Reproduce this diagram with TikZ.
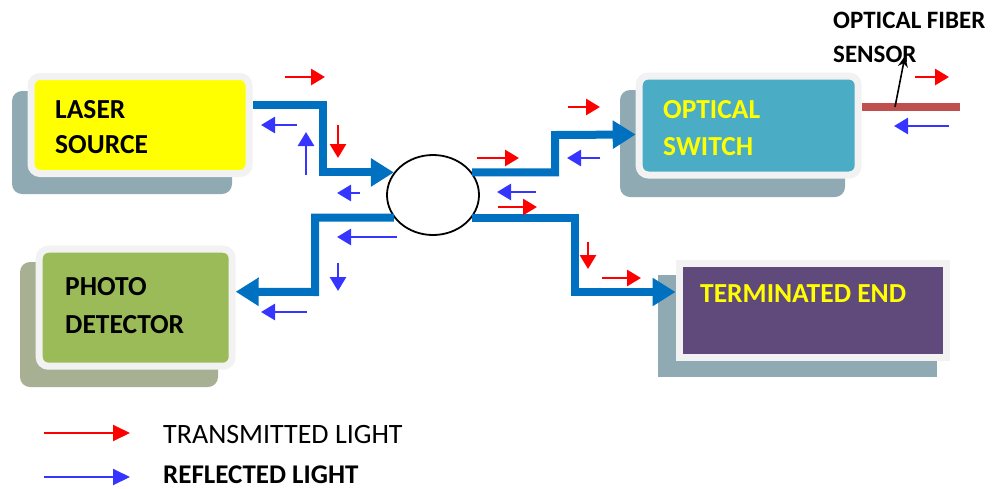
\documentclass[tikz,border=0pt]{standalone}
\usepackage{fontspec}
\setmainfont{Carlito}
\usetikzlibrary{arrows.meta,shapes.geometric}
\definecolor{fibc}{HTML}{0070C0}
\definecolor{txc}{HTML}{FF0000}
\definecolor{rxc}{HTML}{3535FF}
\definecolor{shadowc}{HTML}{8FAAB3}
\definecolor{shadowg}{HTML}{A7B092}
\definecolor{borderc}{HTML}{F2F2F2}
\definecolor{laserc}{HTML}{FFFF00}
\definecolor{switchc}{HTML}{4BACC6}
\definecolor{detc}{HTML}{9BBB59}
\definecolor{termc}{HTML}{604A7B}
\definecolor{sensc}{HTML}{C0504D}
\begin{document}
\begin{tikzpicture}[x=1pt,y=-1pt,
  box/.style={draw=borderc, line width=7pt, rounded corners=9pt, inner sep=0pt},
  sqbox/.style={draw=borderc, line width=7pt, inner sep=0pt},
  lbl/.style={anchor=base west, inner sep=0pt, font=\bfseries\fontsize{27.5}{27.5}\selectfont},
  fiber/.style={draw=fibc, line width=8pt, -{Triangle[length=23pt,width=27pt]}},
  tx/.style={draw=txc, line width=2.8pt, -{Triangle[length=14pt,width=16pt]}},
  rx/.style={draw=rxc, line width=2.8pt, -{Triangle[length=14pt,width=16pt]}},
  legtx/.style={draw=txc, line width=2pt, -{Triangle[length=17pt,width=16pt]}},
  legrx/.style={draw=rxc, line width=2pt, -{Triangle[length=17pt,width=16pt]}},
  leg/.style={anchor=base west, inner sep=0pt, font=\fontsize{28}{28}\selectfont}]
\useasboundingbox (0,0) rectangle (994,488);
% shadows
\fill[shadowc, rounded corners=10pt] (12,91) rectangle (232,194);
\fill[shadowc, rounded corners=10pt] (620,90) rectangle (845,197);
\fill[shadowg, rounded corners=10pt] (20,262) rectangle (218,387);
\fill[shadowc] (658,275) rectangle (937,377);
% boxes
\node[box, fill=laserc, minimum width=218pt, minimum height=97pt] (laser) at (140,125) {};
\node[box, fill=switchc, minimum width=219pt, minimum height=99pt] (switch) at (748.7,125.5) {};
\node[box, fill=detc, minimum width=193pt, minimum height=117pt] (det) at (135.7,307.7) {};
\node[sqbox, fill=termc, minimum width=267pt, minimum height=94pt] (term) at (812.5,310.5) {};
% labels
\node[lbl] (l1) at (55,118) {LASER};
\node[lbl] (l2) at (55,153) {SOURCE};
\node[lbl] (d1) at (65,295) {PHOTO};
\node[lbl] (d2) at (65,333) {DETECTOR};
\node[lbl, text=laserc] (s1) at (663,118) {OPTICAL};
\node[lbl, text=laserc] (s2) at (663,155) {SWITCH};
\node[lbl, text=laserc] (t1) at (700,302) {TERMINATED END};
\node[lbl, font=\bfseries\fontsize{25}{25}\selectfont] (f1) at (833,28) {OPTICAL FIBER};
\node[lbl, font=\bfseries\fontsize{25}{25}\selectfont] (f2) at (833,62) {SENSOR};
% coupler
\node[draw=black, line width=1.8pt, ellipse, minimum width=92pt, minimum height=80pt, inner sep=0pt] (coupler) at (433,195) {};
% fibers
\draw[fiber] ([yshift=20pt]laser.east) -- (323,105) |- (coupler.150);
\draw[fiber] (coupler.210) -| (315,292) -- ([yshift=16pt]det.east);
\draw[fiber] (coupler.30) -| (555,135) -- ([yshift=-9pt]switch.west);
\draw[fiber] (coupler.330) -| (575,292) -- ([yshift=18.5pt]term.west);
% sensor fiber
\coordinate (fiberend) at (960,107);
\coordinate (tap) at (895,107);
\coordinate (tagtip) at (905,56);
\draw[sensc, line width=8pt] ([yshift=18.5pt]switch.east) -- (fiberend);
\draw[black, line width=1.6pt, -{Stealth[length=11pt,width=10pt]}] (tap) -- (tagtip);
% small arrows
\draw[tx] (285,77) -- (325,77);
\draw[rx] (297,125) -- (261,125);
\draw[rx] (306,175) -- (306,132);
\draw[tx] (338,125) -- (338,158);
\draw[rx] (360,193) -- (337,193);
\draw[rx] (397,237) -- (337,237);
\draw[rx] (338,263) -- (338,291);
\draw[rx] (307,312) -- (261,312);
\draw[tx] (477,158) -- (519,158);
\draw[tx] (568,107) -- (600,107);
\draw[rx] (600,158) -- (567,158);
\draw[rx] (536,192) -- (497,192);
\draw[tx] (498,207) -- (537,207);
\draw[tx] (588,242) -- (588,269);
\draw[tx] (602,278) -- (641,278);
\draw[tx] (915,77) -- (949,77);
\draw[rx] (949,126) -- (894,126);
% legend
\coordinate (lt0) at (44,433);
\coordinate (lt1) at (130,433);
\coordinate (lr0) at (44,477);
\coordinate (lr1) at (130,477);
\draw[legtx] (lt0) -- (lt1);
\draw[legrx] (lr0) -- (lr1);
\node[leg] (legt) at (163,443) {TRANSMITTED LIGHT};
\node[leg, font=\bfseries\fontsize{27}{27}\selectfont] (legr) at (163,483) {REFLECTED LIGHT};
\end{tikzpicture}
\end{document}
